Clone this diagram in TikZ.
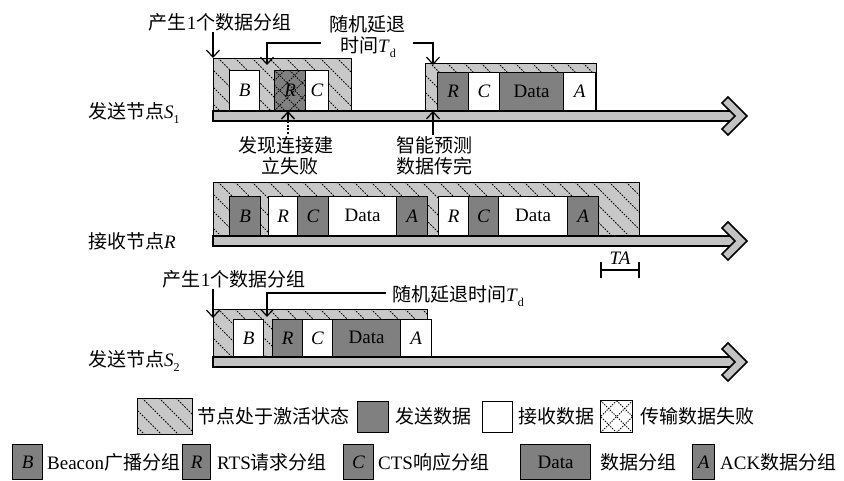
\documentclass[tikz,border=0pt]{standalone}
\usepackage{fontspec}
\setmainfont{Liberation Serif}
\newfontfamily\cjk{Noto Sans CJK SC}
\usetikzlibrary{arrows.meta}

\definecolor{hatchgray}{RGB}{200,200,200}
\definecolor{darkpk}{RGB}{128,128,128}
\definecolor{bargray}{RGB}{195,195,195}

\newcommand{\subsc}[2]{\textit{#1}\raisebox{-0.25em}{\fontsize{12}{12}\selectfont #2}}

\tikzset{
 txt/.style={font=\fontsize{19}{23}\selectfont, inner sep=0pt},
 pkt/.style={draw=black, line width=1.3pt, inner sep=0pt, font=\fontsize{19}{23}\selectfont, anchor=south west},
 snd/.style={pkt, fill=darkpk},
 rcv/.style={pkt, fill=white},
 crossfill/.style={path picture={
   \foreach \k in {-5,...,5} {
     \draw[crossline] ([xshift=\k*#1]path picture bounding box.south west) -- ++(80pt,80pt);
     \draw[crossline] ([xshift=\k*#1]path picture bounding box.north west) -- ++(80pt,-80pt);
   }}},
 fail/.style={pkt, fill=darkpk, crossfill=15pt},
 hatchline/.style={line width=0.9pt, dash pattern=on 1.6pt off 1.4pt},
 crossline/.style={line width=0.9pt, dash pattern=on 1.3pt off 1.3pt},
 boxline/.style={draw=black, line width=1pt},
 barstyle/.style={draw=black, line width=1.5pt, fill=bargray},
 ann/.style={line width=1.2pt, -{Straight Barb[length=7pt,width=13pt]}},
}

% name, x1, y1, x2, y2 (y downward)
\newcommand{\hatchbox}[5]{%
  \coordinate (#1-nw) at (#2,#3);
  \coordinate (#1-se) at (#4,#5);
  \fill[hatchgray] (#2,#3) rectangle (#4,#5);
  \begin{scope}
    \clip (#2,#3) rectangle (#4,#5);
    \foreach \i in {-80,-63,...,520} \draw[hatchline] ({#2+\i},#3) -- ({#2+\i+80},{#3+80});
  \end{scope}
  \draw[boxline] (#2,#3) rectangle (#4,#5);
}

% name, centre y, start x
\newcommand{\timeaxis}[3]{%
  \coordinate (#1-start) at (#3,#2);
  \draw[barstyle] (#3,{#2-5}) rectangle (737,{#2+5});
  \filldraw[fill=bargray, draw=black, line width=1.5pt]
    (728,{#2-19}) -- (747,#2) -- (728,{#2+19}) -- (722,{#2+13}) -- (735,#2) -- (722,{#2-13}) -- cycle;
  \coordinate (#1-end) at (747,#2);
}

\begin{document}
\begin{tikzpicture}[x=1pt,y=-1pt]
\useasboundingbox (0,0) rectangle (844,480);

% ---------------- Sender S1 ----------------
\hatchbox{actA}{213}{58}{351}{111}
\node[rcv, minimum width=30, minimum height=40] (s1B) at (229,111) {\textit{B}};
\node[fail, minimum width=31, minimum height=40] (s1R) at (274,111) {\textit{R}};
\node[rcv, minimum width=23, minimum height=40] (s1C) at (305,111) {\textit{C}};

\hatchbox{actB}{425}{63}{596}{111}
\node[snd, minimum width=31, minimum height=38] (s1R2) at (437,111) {\textit{R}};
\node[rcv, minimum width=31, minimum height=38] (s1C2) at (468,111) {\textit{C}};
\node[snd, minimum width=64, minimum height=38] (s1D2) at (499,111) {Data};
\node[rcv, minimum width=32, minimum height=38] (s1A2) at (563,111) {\textit{A}};

\timeaxis{axS1}{116}{213}
\node[txt, anchor=west] (lblS1) at (88,113) {{\cjk 发送节点}\subsc{S}{1}};

% annotations S1
\node[txt] (gen1) at (220,22) {{\cjk 产生}1{\cjk 个数据分组}};
\coordinate (gen1s) at (213,32);
\coordinate (gen1e) at (213,58);
\draw[ann] (gen1s) -- (gen1e);

\node[txt] (bo1a) at (367,24) {\cjk 随机延退};
\node[txt] (bo1b) at (368,47) {{\cjk 时间}\subsc{T}{d}};
\coordinate (bo1l) at (321,43);
\coordinate (bo1le) at (267,65);
\coordinate (bo1r) at (413,43);
\coordinate (bo1re) at (433,65);
\draw[ann] (bo1l) -| (bo1le);
\draw[ann] (bo1r) -| (bo1re);

\coordinate (failb) at (288,134);
\coordinate (failt) at (288,111);
\draw[line width=2.4pt, dash pattern=on 2pt off 1.6pt] (failb) -- (288,120);
\draw[line width=1.4pt, -{Straight Barb[length=7pt,width=13pt]}] (288,121) -- (failt);
\node[txt] (fail1) at (286,145) {\cjk 发现连接建};
\node[txt] (fail2) at (290,166) {\cjk 立失败};

\coordinate (predb) at (433,135);
\coordinate (predt) at (433,111);
\draw[ann] (predb) -- (predt);
\node[txt] (pred1) at (434,145) {\cjk 智能预测};
\node[txt] (pred2) at (434,166) {\cjk 数据传完};

% ---------------- Receiver R ----------------
\hatchbox{actR}{213}{182}{639}{236}
\node[snd, minimum width=31, minimum height=39] (rB) at (229,236) {\textit{B}};
\node[rcv, minimum width=29, minimum height=39] (rR) at (268,236) {\textit{R}};
\node[snd, minimum width=31, minimum height=39] (rC) at (297,236) {\textit{C}};
\node[rcv, minimum width=68, minimum height=39] (rD) at (328,236) {Data};
\node[snd, minimum width=31, minimum height=39] (rA) at (396,236) {\textit{A}};
\node[rcv, minimum width=30, minimum height=39] (rR2) at (438,236) {\textit{R}};
\node[snd, minimum width=30, minimum height=39] (rC2) at (468,236) {\textit{C}};
\node[rcv, minimum width=69, minimum height=39] (rD2) at (498,236) {Data};
\node[snd, minimum width=31, minimum height=39] (rA2) at (567,236) {\textit{A}};

\timeaxis{axR}{241}{213}
\node[txt, anchor=west] (lblR) at (88,241) {{\cjk 接收节点}\textit{R}};

\coordinate (taL) at (601,270);
\coordinate (taR) at (639,270);
\draw[line width=1.2pt] (601,262) -- (601,278) (639,262) -- (639,278);
\draw[line width=1.2pt] (taL) -- (taR);
\node[txt] (ta) at (620,258) {\textit{TA}};

% ---------------- Sender S2 ----------------
\hatchbox{actS2}{213}{309}{427}{357}
\node[rcv, minimum width=30, minimum height=37] (s2B) at (233,357) {\textit{B}};
\node[snd, minimum width=30, minimum height=37] (s2R) at (272,357) {\textit{R}};
\node[rcv, minimum width=30, minimum height=37] (s2C) at (302,357) {\textit{C}};
\node[snd, minimum width=68, minimum height=37] (s2D) at (332,357) {Data};
\node[rcv, minimum width=31, minimum height=37] (s2A) at (400,357) {\textit{A}};

\timeaxis{axS2}{362}{213}
\node[txt, anchor=west] (lblS2) at (88,361) {{\cjk 发送节点}\subsc{S}{2}};

\node[txt] (gen2) at (234,279) {{\cjk 产生}1{\cjk 个数据分组}};
\coordinate (gen2s) at (213,289);
\coordinate (gen2e) at (213,318);
\draw[ann] (gen2s) -- (gen2e);

\node[txt, anchor=west] (bo2) at (392,296) {{\cjk 随机延退时间}\subsc{T}{d}};
\coordinate (bo2l) at (386,293);
\coordinate (bo2e) at (267,317);
\draw[ann] (bo2l) -| (bo2e);

% ---------------- Legend row 1 ----------------
\hatchbox{lgHatch}{137}{398}{192}{434}
\node[txt, anchor=west] (lgt1) at (197,416) {\cjk 节点处于激活状态};
\node[snd, anchor=north west, minimum width=31, minimum height=31] (lgSnd) at (357,401) {};
\node[txt, anchor=west] (lgt2) at (395,416) {\cjk 发送数据};
\node[rcv, anchor=north west, minimum width=30, minimum height=31] (lgRcv) at (482,401) {};
\node[txt, anchor=west] (lgt3) at (518,416) {\cjk 接收数据};
\node[pkt, fill=white, crossfill=16pt, anchor=north west, minimum width=32, minimum height=32] (lgFail) at (600,400) {};
\node[txt, anchor=west] (lgt4) at (640,416) {\cjk 传输数据失败};

% ---------------- Legend row 2 ----------------
\node[snd, anchor=north west, minimum width=30, minimum height=35] (lgB) at (12,444) {\textit{B}};
\node[txt, anchor=west] (lgtB) at (47,462) {Beacon{\cjk 广播分组}};
\node[snd, anchor=north west, minimum width=28, minimum height=35] (lgR) at (182,444) {\textit{R}};
\node[txt, anchor=west] (lgtR) at (217,462) {RTS{\cjk 请求分组}};
\node[snd, anchor=north west, minimum width=30, minimum height=35] (lgC) at (343,444) {\textit{C}};
\node[txt, anchor=west] (lgtC) at (378,462) {CTS{\cjk 响应分组}};
\node[snd, anchor=north west, minimum width=70, minimum height=35] (lgD) at (520,444) {Data};
\node[txt, anchor=west] (lgtD) at (600,462) {\cjk 数据分组};
\node[snd, anchor=north west, minimum width=22, minimum height=35] (lgA) at (692,444) {\textit{A}};
\node[txt, anchor=west] (lgtA) at (720,462) {ACK{\cjk 数据分组}};

\end{tikzpicture}
\end{document}
